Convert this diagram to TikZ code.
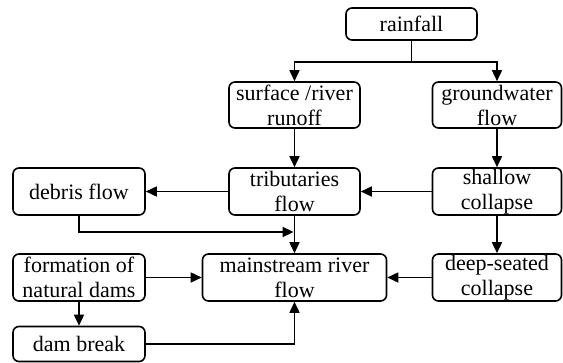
\documentclass[tikz,border=0pt]{standalone}
\usepackage{fontspec}
\setmainfont{Liberation Serif}
\newfontfamily\boxfont{Liberation Serif}
\usetikzlibrary{arrows.meta}
\tikzset{
  box/.style={draw=black, line width=1.6pt, rounded corners=6pt, inner sep=0pt,
    align=center, font=\boxfont\fontsize{22}{25}\selectfont, text=black},
  arr/.style={draw=black, line width=1.6pt, -{Triangle[length=11pt,width=10pt]}},
  ln/.style={draw=black, line width=1.6pt}
}
\begin{document}
\begin{tikzpicture}[x=1pt,y=-1pt]
\useasboundingbox (0,0) rectangle (563,363);
\node[box, minimum width=131pt, minimum height=32pt] (rain) at (411.5,24) {rainfall};
\node[box, minimum width=131pt, minimum height=46pt] (surf) at (294.5,105) {surface /river\\runoff};
\node[box, minimum width=129pt, minimum height=46pt] (gw) at (497,105) {groundwater\\flow};
\node[box, minimum width=131pt, minimum height=47pt] (trib) at (294.5,191.5) {tributaries\\flow};
\node[box, minimum width=129pt, minimum height=47pt] (shal) at (497,191.5) {shallow\\collapse};
\node[box, minimum width=132pt, minimum height=47pt] (debris) at (79,191.5) {debris flow};
\node[box, minimum width=184pt, minimum height=47pt] (main) at (294.5,277.5) {mainstream river\\flow};
\node[box, minimum width=132pt, minimum height=47pt] (form) at (79,277.5) {formation of\\natural dams};
\node[box, minimum width=129pt, minimum height=47pt] (deep) at (497,277.5) {deep-seated\\collapse};
\node[box, minimum width=132pt, minimum height=35pt] (dam) at (79,344) {dam break};
\coordinate (j) at (411.5,62);
\coordinate (dj) at (293.6,232);
\draw[ln] (rain.south) -- (j);
\draw[arr] (j) -| (surf.north);
\draw[arr] (j) -| (gw.north);
\draw[arr] (surf.south) -- (trib.north);
\draw[arr] (gw.south) -- (shal.north);
\draw[arr] (trib.west) -- (debris.east);
\draw[arr] (shal.west) -- (trib.east);
\draw[arr] (shal.south) -- (deep.north);
\draw[arr] (debris.south) |- (dj);
\draw[arr] (trib.south) -- (main.north);
\draw[arr] (deep.west) -- (main.east);
\draw[arr] (form.east) -- (main.west);
\draw[arr] (form.south) -- (dam.north);
\draw[arr] (dam.east) -| (main.south);
\end{tikzpicture}
\end{document}
